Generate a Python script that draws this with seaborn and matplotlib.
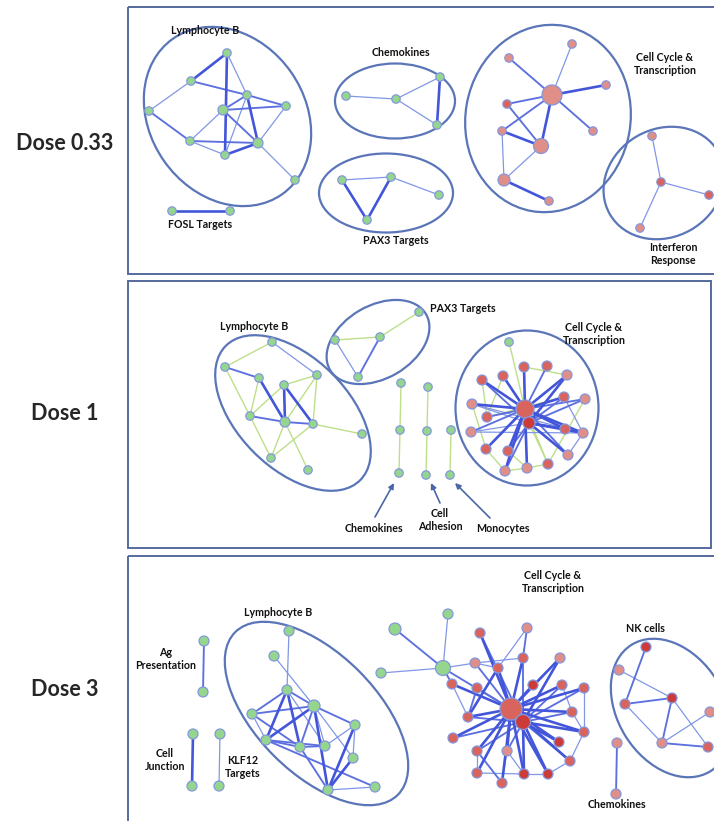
import matplotlib
matplotlib.use("Agg")
import matplotlib.pyplot as plt
from matplotlib.patches import Ellipse, Rectangle
import pandas as pd
import seaborn as sns

sns.set_theme(style="white")
plt.rcParams['font.family'] = ['Lato', 'DejaVu Sans']

# ---- network data (layout coordinates, y downwards) ----
# kind: g = green gene set, s = light red, r = red, d = dark red
# size: node weight class 1..7

# Dose 0.33
P1_X = [227, 191, 247, 286, 223, 149, 190, 258, 225, 295,
        346, 396, 440, 437,
        342, 391, 439, 367,
        172, 230,
        572, 509, 606, 552, 507, 502, 593, 541, 504, 549,
        652, 661, 709, 640]
P1_Y = [53, 81, 95, 106, 110, 111, 141, 143, 155, 180,
        96, 99, 77, 125,
        180, 177, 195, 220,
        211, 211,
        44, 58, 85, 95, 104, 131, 131, 146, 180, 201,
        136, 182, 195, 228]
P1_KIND = ['g'] * 20 + ['s', 's', 's', 's', 'r', 's', 's', 's', 's', 's',
                        's', 'r', 'r', 's']
P1_SIZE = [1, 1, 1, 1, 2, 1, 1, 2, 1, 1,
           1, 1, 1, 1,
           1, 1, 1, 1,
           1, 1,
           1, 1, 1, 6, 1, 1, 1, 4, 3, 1,
           1, 1, 1, 1]
# edge weight: 0 = green link, 1..3 = blue link thin..thick
P1_EDGES = [(0, 1, 3), (0, 8, 3), (0, 2, 1), (1, 2, 2), (1, 5, 1), (5, 6, 2),
            (2, 4, 2), (2, 3, 2), (2, 7, 3), (2, 8, 1), (4, 3, 2), (4, 7, 2),
            (4, 6, 1), (6, 7, 2), (6, 8, 1), (8, 7, 3), (7, 9, 1), (3, 7, 1),
            (10, 11, 1), (11, 12, 1), (11, 13, 1), (12, 13, 3),
            (14, 15, 1), (15, 16, 1), (14, 17, 3), (15, 17, 3),
            (18, 19, 3),
            (20, 23, 1), (21, 23, 2), (22, 23, 3), (24, 23, 2), (25, 23, 2),
            (26, 23, 2), (27, 23, 3), (24, 27, 2), (25, 27, 3), (25, 28, 1),
            (28, 27, 1), (28, 29, 3),
            (30, 31, 1), (31, 32, 1), (31, 33, 1)]

# Dose 1
P2_X = [272, 225, 259, 317, 284, 250, 285, 313, 362, 271, 308,
        419, 380, 335, 358,
        401, 400, 399, 428, 427, 426, 451, 450,
        509, 524, 547, 567, 482, 503, 564, 585, 472, 525, 487, 529,
        471, 565, 583, 486, 508, 568, 548, 527, 505]
P2_Y = [342, 367, 378, 375, 385, 416, 422, 424, 434, 458, 470,
        312, 337, 340, 377,
        383, 430, 473, 387, 431, 475, 430, 475,
        342, 367, 366, 375, 380, 376, 397, 399, 404, 409, 417, 423,
        432, 429, 433, 449, 451, 455, 464, 468, 471]
P2_KIND = ['g'] * 24 + ['r', 'r', 's', 'r', 'r', 'r', 's', 's', 'r', 'r', 'd',
                        's', 'r', 's', 'r', 'r', 's', 'r', 's', 's']
P2_SIZE = [1, 1, 1, 1, 1, 1, 2, 1, 1, 1, 1,
           1, 1, 1, 1,
           1, 1, 1, 1, 1, 1, 1, 1,
           1, 2, 2, 2, 2, 2, 2, 2, 2, 5, 2, 3,
           2, 2, 2, 2, 2, 2, 2, 2, 2]
P2_EDGES = [(0, 1, 0), (0, 3, 1), (1, 2, 2), (1, 5, 0), (2, 6, 3), (2, 5, 0),
            (4, 6, 3), (4, 7, 3), (4, 3, 0), (4, 5, 0), (5, 6, 2), (6, 7, 2),
            (6, 3, 0), (3, 7, 0), (7, 8, 0), (6, 9, 0), (6, 10, 0), (7, 9, 0),
            (5, 9, 0),
            (11, 12, 0), (12, 13, 0), (13, 14, 1), (12, 14, 2),
            (15, 16, 0), (16, 17, 0), (18, 19, 0), (19, 20, 0), (21, 22, 0),
            (23, 32, 0), (24, 26, 0), (28, 33, 0), (31, 38, 0), (38, 43, 0),
            (43, 42, 0), (42, 41, 0), (30, 41, 0), (32, 41, 0), (34, 41, 0),
            (27, 33, 0), (39, 42, 0), (33, 29, 0),
            (32, 24, 3), (32, 25, 2), (32, 26, 3), (32, 27, 3), (32, 28, 3),
            (32, 29, 3), (32, 30, 2), (32, 31, 3), (32, 33, 2), (32, 35, 2),
            (32, 36, 3), (32, 37, 3), (32, 38, 3), (32, 39, 3), (32, 40, 2),
            (32, 42, 3), (32, 43, 3),
            (34, 26, 3), (34, 29, 2), (34, 30, 2), (34, 36, 3), (34, 37, 3),
            (34, 40, 3), (34, 31, 1), (34, 35, 1), (34, 27, 2), (34, 43, 2),
            (34, 39, 2), (29, 37, 1), (36, 37, 2), (40, 37, 1), (31, 37, 1),
            (35, 37, 1)]

# Dose 3
P3_X = [204, 203, 193, 192, 220, 219,
        289, 274, 287, 314, 252, 355, 266, 300, 325, 353, 328, 375,
        395, 381, 448, 443,
        480, 527, 475, 498, 523, 560, 452, 477, 533, 562, 584, 511, 523,
        468, 572, 453, 584, 559, 477, 507, 570, 477, 524, 548, 502,
        646, 619, 672, 625, 710, 662, 708,
        617, 616]
P3_Y = [641, 692, 734, 786, 734, 786,
        631, 656, 690, 706, 714, 725, 740, 747, 746, 758, 790, 787,
        629, 673, 614, 668,
        633, 628, 663, 668, 658, 658, 684, 688, 685, 685, 688, 709, 722,
        717, 712, 738, 732, 742, 751, 751, 761, 773, 774, 774, 783,
        647, 670, 698, 704, 712, 743, 747,
        743, 794]
P3_KIND = ['g'] * 22 + ['r', 's', 's', 'r', 'r', 's', 'r', 'r', 'd', 'r', 'r',
                        'r', 'd', 'r', 'r', 'r', 'r', 'd', 'r', 's', 'r', 'r',
                        'd', 'd', 'r',
                        'd', 's', 'd', 'r', 's', 's', 'r',
                        's', 's']
P3_SIZE = [2, 2, 2, 2, 2, 2,
           2, 2, 2, 3, 2, 2, 2, 2, 2, 2, 2, 2,
           3, 2, 2, 4,
           2, 2, 2, 2, 2, 2, 2, 2, 2, 2, 2, 7, 4,
           2, 2, 2, 2, 2, 2, 2, 2, 2, 2, 2, 2,
           2, 2, 2, 2, 2, 2, 2,
           2, 2]
P3_EDGES = [(0, 1, 2), (2, 3, 3), (4, 5, 1),
            (6, 8, 1), (7, 9, 1), (8, 10, 2), (8, 12, 3), (8, 13, 3), (8, 9, 2),
            (8, 14, 1), (9, 12, 3), (9, 10, 2), (9, 11, 2), (9, 13, 2),
            (9, 14, 1), (9, 16, 3), (9, 15, 1), (10, 13, 2), (10, 12, 1),
            (12, 13, 2), (12, 14, 2), (12, 17, 2), (11, 15, 1), (11, 16, 3),
            (15, 16, 3), (16, 17, 1), (13, 16, 2), (13, 14, 2), (11, 14, 1),
            (18, 21, 2), (19, 21, 1), (20, 21, 1), (21, 33, 2), (21, 28, 2),
            (21, 24, 1),
            (33, 22, 3), (33, 25, 3), (33, 26, 3), (33, 27, 3), (33, 28, 3),
            (33, 29, 2), (33, 30, 3), (33, 31, 3), (33, 32, 3), (33, 35, 3),
            (33, 36, 3), (33, 37, 3), (33, 38, 3), (33, 39, 3), (33, 40, 3),
            (33, 41, 3), (33, 42, 3), (33, 43, 3), (33, 44, 3), (33, 45, 3),
            (33, 46, 3), (33, 24, 2),
            (34, 27, 3), (34, 31, 2), (34, 32, 2), (34, 36, 2), (34, 38, 3),
            (34, 39, 3), (34, 42, 2), (34, 44, 3), (34, 45, 3), (34, 41, 2),
            (34, 40, 2), (34, 37, 2), (34, 35, 2), (34, 26, 2), (34, 22, 2),
            (23, 26, 2), (24, 26, 1), (24, 25, 1), (28, 35, 1), (29, 35, 2),
            (25, 35, 3), (32, 38, 1), (36, 38, 1), (31, 36, 1), (38, 42, 1),
            (40, 43, 1), (43, 44, 1), (41, 44, 1), (44, 45, 1), (42, 45, 1),
            (46, 41, 1), (46, 40, 2), (27, 30, 1), (23, 25, 1),
            (47, 50, 2), (48, 49, 1), (50, 49, 2), (49, 52, 2), (49, 53, 1),
            (50, 52, 1), (52, 53, 2), (51, 52, 1), (54, 55, 2)]

DOSES = ['Dose 0.33', 'Dose 1', 'Dose 3']

# ---- layout / styling ----
KIND_COLORS = {'g': '#95d68e', 's': '#e08f88', 'r': '#d9645e', 'd': '#cc3b37'}
SIZE_RADIUS = {1: 4.2, 2: 5, 3: 6, 4: 7.5, 5: 9, 6: 10, 7: 11}
EDGE_STYLE = {0: ('#bddf8a', 1.0), 1: ('#8197e6', 0.9),
              2: ('#5c70e0', 1.35), 3: ('#4356da', 1.9)}
LINE_BLUE = '#5a75b8'

fig = plt.figure(figsize=(7.14, 8.21), dpi=100)
ax = fig.add_axes([0, 0, 1, 1])

nodes = []
for p, (xs, ys, ks, ss) in enumerate([(P1_X, P1_Y, P1_KIND, P1_SIZE),
                                      (P2_X, P2_Y, P2_KIND, P2_SIZE),
                                      (P3_X, P3_Y, P3_KIND, P3_SIZE)]):
    nodes.append(pd.DataFrame({'x': xs, 'y': ys, 'kind': ks, 'size': ss, 'panel': p}))
df = pd.concat(nodes, ignore_index=True)

# edges
for xs, ys, edges in [(P1_X, P1_Y, P1_EDGES), (P2_X, P2_Y, P2_EDGES),
                      (P3_X, P3_Y, P3_EDGES)]:
    for i, j, w in sorted(edges, key=lambda e: (e[2] != 0, e[2])):
        c, lw = EDGE_STYLE[w]
        ax.plot([xs[i], xs[j]], [ys[i], ys[j]], color=c, lw=lw,
                solid_capstyle='round', zorder=2)

# nodes
sizes = {k: (1.44 * r) ** 2 for k, r in SIZE_RADIUS.items()}
sns.scatterplot(data=df, x='x', y='y', hue='kind', palette=KIND_COLORS,
                size='size', sizes=sizes, legend=False, ax=ax,
                edgecolor='#8598dc', linewidth=0.9, zorder=3)

# group ellipses (cx, cy, width, height, angle)
ELLIPSES = [(227.5, 116.5, 190, 155, 55), (395, 101, 120, 75, 0),
            (386, 193, 134, 79, 0), (548, 118.5, 188, 165, -80),
            (664, 183, 125, 108, -30),
            (293, 413, 190, 111, 45), (378, 342, 111, 73, -30),
            (527, 408, 143, 155, 0),
            (316.5, 713.5, 230, 120, 45), (671, 708, 149, 107, 58)]
for cx, cy, w, h, a in ELLIPSES:
    ax.add_patch(Ellipse((cx, cy), w, h, angle=a, fill=False,
                         ec=LINE_BLUE, lw=1.6, zorder=1))

# panel frames
for x0, y0, w, h in [(128, 7, 600, 267), (128, 281, 583, 267), (128, 556, 600, 280)]:
    ax.add_patch(Rectangle((x0, y0), w, h, fill=False, ec='#55699c', lw=1.4, zorder=0))

# dose labels
for y, lab in zip([143, 413, 690], DOSES):
    ax.text(65, y, lab, ha='center', va='center', fontsize=15.5, fontweight='bold')

LABELS = [(205, 31, 'Lymphocyte B'), (401, 52, 'Chemokines'),
          (396, 241, 'PAX3 Targets'), (200, 225, 'FOSL Targets'),
          (665, 64, 'Cell Cycle &\nTranscription'),
          (673, 254, 'Interferon\nResponse'),
          (254, 326, 'Lymphocyte B'), (463, 308, 'PAX3 Targets'),
          (594, 334, 'Cell Cycle &\nTranscription'),
          (374, 528, 'Chemokines'), (440, 520, 'Cell\nAdhesion'),
          (503, 528, 'Monocytes'),
          (278, 613, 'Lymphocyte B'), (166, 659, 'Ag\nPresentation'),
          (165, 760, 'Cell\nJunction'), (243, 767, 'KLF12\nTargets'),
          (553, 582, 'Cell Cycle &\nTranscription'), (645, 629, 'NK cells'),
          (617, 805, 'Chemokines')]
for x, y, t in LABELS:
    ax.text(x, y, t, ha='center', va='center', fontsize=7.7,
            fontweight='bold', linespacing=1.3, color='#111111')

for tail, head in [((375, 517), (394, 483)), ((440, 503), (431, 483)),
                   ((490, 518), (455, 483))]:
    ax.annotate('', xy=head, xytext=tail,
                arrowprops=dict(arrowstyle='-|>', color='#4a66a8', lw=1.2,
                                mutation_scale=8, shrinkA=0, shrinkB=0))

ax.set_xlim(0, 714)
ax.set_ylim(821, 0)
ax.axis('off')
fig.savefig('out.png', dpi=100)
